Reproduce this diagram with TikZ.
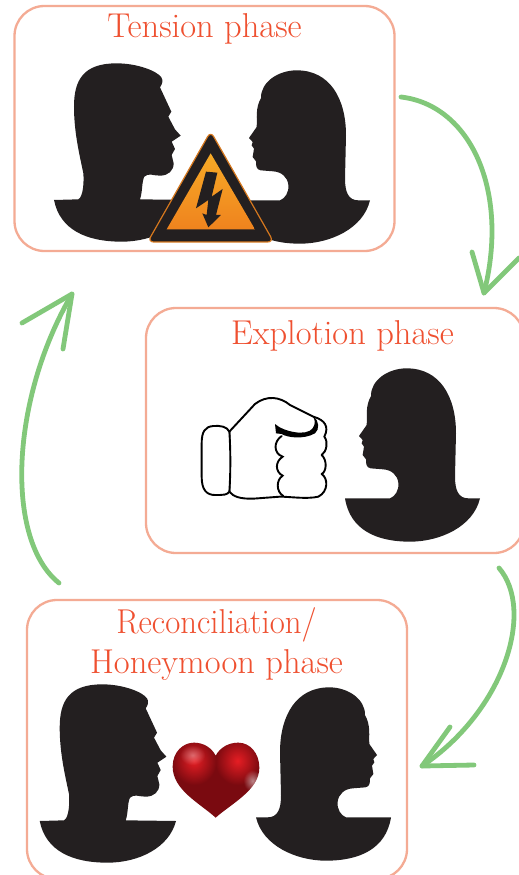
\documentclass[tikz,border=0pt]{standalone}
\usetikzlibrary{fadings}
\definecolor{boxline}{HTML}{F4AB94}
\definecolor{titlecol}{HTML}{EF5030}
\definecolor{arrowcol}{HTML}{82C87A}
\definecolor{sil}{HTML}{231F20}
\definecolor{signedge}{HTML}{D6781E}
\definecolor{signtop}{HTML}{F7AA26}
\definecolor{signbot}{HTML}{EF831E}
\definecolor{heartdark}{HTML}{7A0A10}
\definecolor{heartred}{HTML}{E61E24}
\tikzfading[name=softfade,inner color=transparent!0,outer color=transparent!100]
\tikzset{
  phasebox/.style={draw=boxline,line width=2.3pt,rounded corners=30pt,fill=white,inner sep=0pt},
  phasetitle/.style={text=titlecol,align=center,inner sep=0pt,font=\fontsize{34.5}{40}\selectfont},
  cycarrow/.style={draw=arrowcol,line width=4.8pt,line cap=round,line join=round},
  fistline/.style={draw=black,line width=1.9pt,fill=white,line join=round},
  softblob/.style={path fading=softfade},
}
\newcommand{\manshape}{%
  \fill[sil] (162,600) -- (235,598) .. controls (250,590) and (252,545) .. (250,520)
   .. controls (240,470) and (222,400) .. (222,320)
   .. controls (222,240) and (250,190) .. (350,190)
   .. controls (410,190) and (470,212) .. (484,232)
   .. controls (490,242) and (487,252) .. (480,262)
   -- (514,335) -- (505,350) -- (525,388) -- (542,407) -- (515,425) -- (525,447) -- (515,465) -- (521,490)
   .. controls (521,512) and (505,527) .. (480,527)
   .. controls (460,527) and (445,518) .. (433,530)
   .. controls (425,545) and (428,575) .. (420,598)
   -- (571,600)
   .. controls (550,680) and (460,725) .. (365,725)
   .. controls (260,725) and (180,690) .. (162,600) -- cycle;}
\newcommand{\womanshape}{%
  \fill[sil] (615,595) -- (750,595)
   .. controls (765,590) and (778,570) .. (775,548)
   .. controls (772,525) and (755,510) .. (730,508)
   -- (692,505) .. controls (678,503) and (678,490) .. (678,478)
   -- (668,465) -- (672,440) -- (665,430) -- (668,420) -- (657,408) -- (680,375)
   .. controls (682,350) and (675,320) .. (693,288)
   .. controls (692,240) and (745,205) .. (800,205)
   .. controls (900,205) and (948,290) .. (948,400)
   -- (945,530) .. controls (945,570) and (955,595) .. (985,595) -- (1020,595)
   .. controls (1000,680) and (900,725) .. (810,725)
   .. controls (710,725) and (630,690) .. (615,595) -- cycle;}
\newcommand{\heartpath}{(587,668) .. controls (540,625) and (458,585) .. (458,515) .. controls (458,470) and (490,443) .. (522,443) .. controls (550,443) and (575,458) .. (587,482) .. controls (600,458) and (625,443) .. (655,443) .. controls (690,443) and (718,475) .. (718,518) .. controls (718,585) and (635,625) .. (587,668) -- cycle}
\begin{document}
\begin{tikzpicture}[x=1pt,y=-1pt]
\useasboundingbox (0,0) rectangle (519,875);
\clip (0,0) rectangle (519,875);
\fill[white] (0,0) rectangle (519,875);
% boxes
\node[phasebox,minimum width=380pt,minimum height=245pt] (tension) at (204.5,128.5) {};
\node[phasebox,minimum width=378pt,minimum height=245pt] (explosion) at (335,430.5) {};
\node[phasebox,minimum width=380pt,minimum height=279pt] (honey) at (217,739.5) {};
% titles
\node[phasetitle] (t1) at (204.5,29) {Tension phase};
\node[phasetitle] (t2) at (342.5,336) {Explotion phase};
\node[phasetitle] (t3) at (216.5,644) {\scalebox{0.95}[1]{Reconciliation/}\\Honeymoon phase};
% tension silhouettes
\begin{scope}[scale=1/3]\manshape\end{scope}
\begin{scope}[shift={(30,2)},scale=1/3]\womanshape\end{scope}
% warning sign
\begin{scope}[scale=1/3]
  \fill[sil,draw=signedge,line width=1.2pt,rounded corners=6pt] (632,394) -- (821,726) -- (443,726) -- cycle;
  \shade[top color=signtop,bottom color=signbot] (632,460) -- (765,688) -- (500,688) -- cycle;
  \fill[sil] (618,515) -- (652,518) -- (635,590) -- (668,567) -- (648,645) -- (663,645) -- (625,682) -- (607,640) -- (620,645) -- (625,600) -- (588,625) -- cycle;
\end{scope}
% explosion
\begin{scope}[shift={(140,300)},scale=1/3]
  \womanshape
  \draw[fistline] (268,395) -- (345,312) .. controls (380,285) and (420,290) .. (450,315) -- (520,350) .. controls (555,360) and (568,380) .. (553,410) .. controls (565,425) and (560,455) .. (545,465) .. controls (562,480) and (560,515) .. (545,522) .. controls (565,535) and (565,575) .. (535,590) .. controls (500,598) and (450,590) .. (420,590) -- (340,596) .. controls (300,597) and (280,590) .. (268,575) -- cycle;
  \draw[fistline] (268,395) .. controls (262,380) and (240,376) .. (220,378) .. controls (195,380) and (185,395) .. (185,430) -- (185,530) .. controls (185,570) and (200,585) .. (225,585) .. controls (250,585) and (262,585) .. (268,575) .. controls (272,520) and (272,450) .. (268,395) -- cycle;
  \fill[black] (405,372) .. controls (430,395) and (500,410) .. (518,385) .. controls (528,370) and (525,358) .. (518,350) .. controls (540,360) and (538,390) .. (525,400) .. controls (490,420) and (440,412) .. (425,402) -- (408,400) -- cycle;
  \draw[black,line width=1.9pt,line cap=round] (425,408) .. controls (400,425) and (400,460) .. (428,470) .. controls (405,485) and (405,515) .. (428,527) .. controls (408,540) and (408,575) .. (430,588);
\end{scope}
% honeymoon
\begin{scope}[shift={(-14.3,621)},scale=1/3]\manshape\end{scope}
\begin{scope}[shift={(596,619)},xscale=-1/3,yscale=1/3]\womanshape\end{scope}
\begin{scope}[shift={(20,595)},scale=1/3]
  \fill[heartdark] \heartpath;
  \begin{scope}
    \clip \heartpath;
    \fill[heartred,softblob] (455,425) rectangle (590,570);
    \fill[heartred,softblob] (585,425) rectangle (720,570);
    \fill[white,opacity=.35,softblob] (480,450) rectangle (555,510);
    \fill[white,opacity=.5,softblob] (670,525) rectangle (725,590);
  \end{scope}
\end{scope}
% arrows
\coordinate (a1s) at (401,97);
\coordinate (a1e) at (484,293);
\coordinate (a1l) at (472,252);
\coordinate (a1r) at (519,258);
\coordinate (a2s) at (499,568);
\coordinate (a2e) at (422,766);
\coordinate (a2l) at (450,727);
\coordinate (a2r) at (474,765);
\coordinate (a3s) at (59,583);
\coordinate (a3e) at (72,294);
\coordinate (a3l) at (22,323);
\coordinate (a3r) at (63,349);
\draw[cycarrow] (a1s) .. controls (470,105) and (510,190) .. (a1e);
\draw[cycarrow] (a1l) -- (a1e) -- (a1r);
\draw[cycarrow] (a2s) .. controls (535,610) and (505,710) .. (a2e);
\draw[cycarrow] (a2l) -- (a2e) -- (a2r);
\draw[cycarrow] (a3s) .. controls (5,540) and (10,400) .. (a3e);
\draw[cycarrow] (a3l) -- (a3e) -- (a3r);
\end{tikzpicture}
\end{document}
